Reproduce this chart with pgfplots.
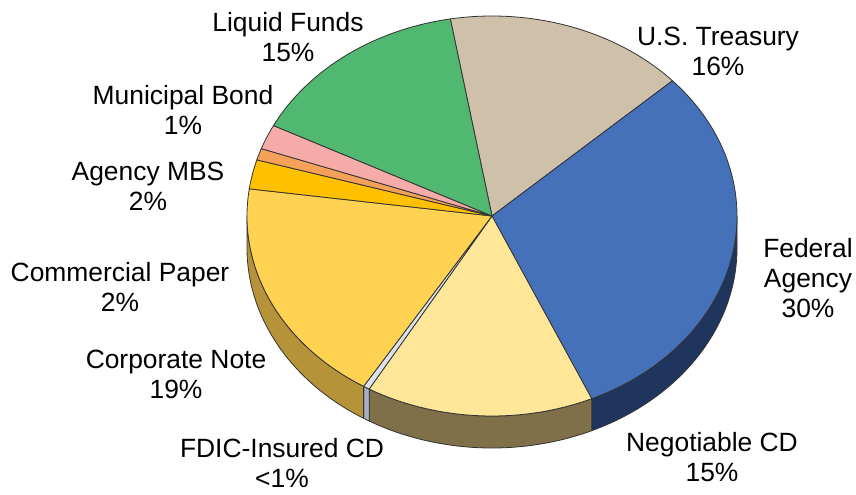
\documentclass[border=0pt]{standalone}
\usepackage{pgfplots}
\pgfplotsset{compat=1.18}
\usepackage{pgfplotstable}
\usepackage{fontspec}
\setmainfont{Liberation Sans}

\definecolor{cTre}{HTML}{CFC1A9}\definecolor{cTreS}{HTML}{8F8270}
\definecolor{cFed}{HTML}{4571BA}\definecolor{cFedS}{HTML}{1F355E}
\definecolor{cNeg}{HTML}{FFE699}\definecolor{cNegS}{HTML}{80704A}
\definecolor{cFdic}{HTML}{DCE2EC}\definecolor{cFdicS}{HTML}{A5AFC2}
\definecolor{cCorp}{HTML}{FFD351}\definecolor{cCorpS}{HTML}{B69339}
\definecolor{cCom}{HTML}{FFC000}\definecolor{cComS}{HTML}{A07800}
\definecolor{cOra}{HTML}{F6A15A}\definecolor{cOraS}{HTML}{A06030}
\definecolor{cPink}{HTML}{F5ACA8}\definecolor{cPinkS}{HTML}{A06A66}
\definecolor{cGrn}{HTML}{50B870}\definecolor{cGrnS}{HTML}{2C7040}
\definecolor{cEdge}{HTML}{333333}

\pgfplotstableread{
pct top side
15.90 cTre cTreS
30.15 cFed cFedS
15.03 cNeg cNegS
0.42 cFdic cFdicS
18.39 cCorp cCorpS
2.36 cCom cComS
0.94 cOra cOraS
2.00 cPink cPinkS
14.81 cGrn cGrnS
}\piedata

\begin{document}
\begin{tikzpicture}
\begin{axis}[
  name=ax,
  scale only axis, width=428pt, height=247pt,
  xmin=0, xmax=856, ymin=0, ymax=494,
  hide axis, clip=false,
]
\pgfplotsextra{
  % side walls (front half)
  \xdef\cur{99.8}
  \foreach \i in {0,...,8}{
    \pgfplotstablegetelem{\i}{pct}\of\piedata \let\p\pgfplotsretval
    \pgfplotstablegetelem{\i}{side}\of\piedata \let\sc\pgfplotsretval
    \pgfmathsetmacro\e{\cur-3.6*\p}
    \pgfmathsetmacro\a{min(\cur,0)}
    \pgfmathsetmacro\b{max(\e,-180)}
    \pgfmathtruncatemacro\ok{\a>\b ? 1 : 0}
    \ifnum\ok=1
      \filldraw[fill=\sc, draw=cEdge, line width=0.4pt, line join=round]
        (axis cs:492,278) ++(\a:122.5pt and 100pt)
        arc[start angle=\a, end angle=\b, x radius=122.5pt, y radius=100pt]
        -- ++(0,-16pt)
        arc[start angle=\b, end angle=\a, x radius=122.5pt, y radius=100pt]
        -- cycle;
    \fi
    \xdef\cur{\e}
  }
  % top faces
  \xdef\cur{99.8}
  \foreach \i in {0,...,8}{
    \pgfplotstablegetelem{\i}{pct}\of\piedata \let\p\pgfplotsretval
    \pgfplotstablegetelem{\i}{top}\of\piedata \let\tc\pgfplotsretval
    \pgfmathsetmacro\e{\cur-3.6*\p}
    \filldraw[fill=\tc, draw=cEdge, line width=0.4pt, line join=round]
      (axis cs:492,278) -- ++(\cur:122.5pt and 100pt)
      arc[start angle=\cur, end angle=\e, x radius=122.5pt, y radius=100pt]
      -- cycle;
    \xdef\cur{\e}
  }
}
\begin{scope}[every node/.style={align=center, inner sep=0pt, font=\fontsize{13.2}{15}\selectfont}]
\node at (axis cs:288,457) {Liquid Funds\\15\%};
\node at (axis cs:718,443) {U.S. Treasury\\16\%};
\node at (axis cs:183,384) {Municipal Bond\\1\%};
\node at (axis cs:148,308) {Agency MBS\\2\%};
\node at (axis cs:120,207) {Commercial Paper\\2\%};
\node at (axis cs:176,120) {Corporate Note\\19\%};
\node at (axis cs:282,31) {FDIC-Insured CD\\<1\%};
\node at (axis cs:712,37) {Negotiable CD\\15\%};
\node at (axis cs:808,216) {Federal\\Agency\\30\%};
\end{scope}
\end{axis}
\pgfresetboundingbox
\path (ax.south west) rectangle (ax.north east);
\end{tikzpicture}
\end{document}
